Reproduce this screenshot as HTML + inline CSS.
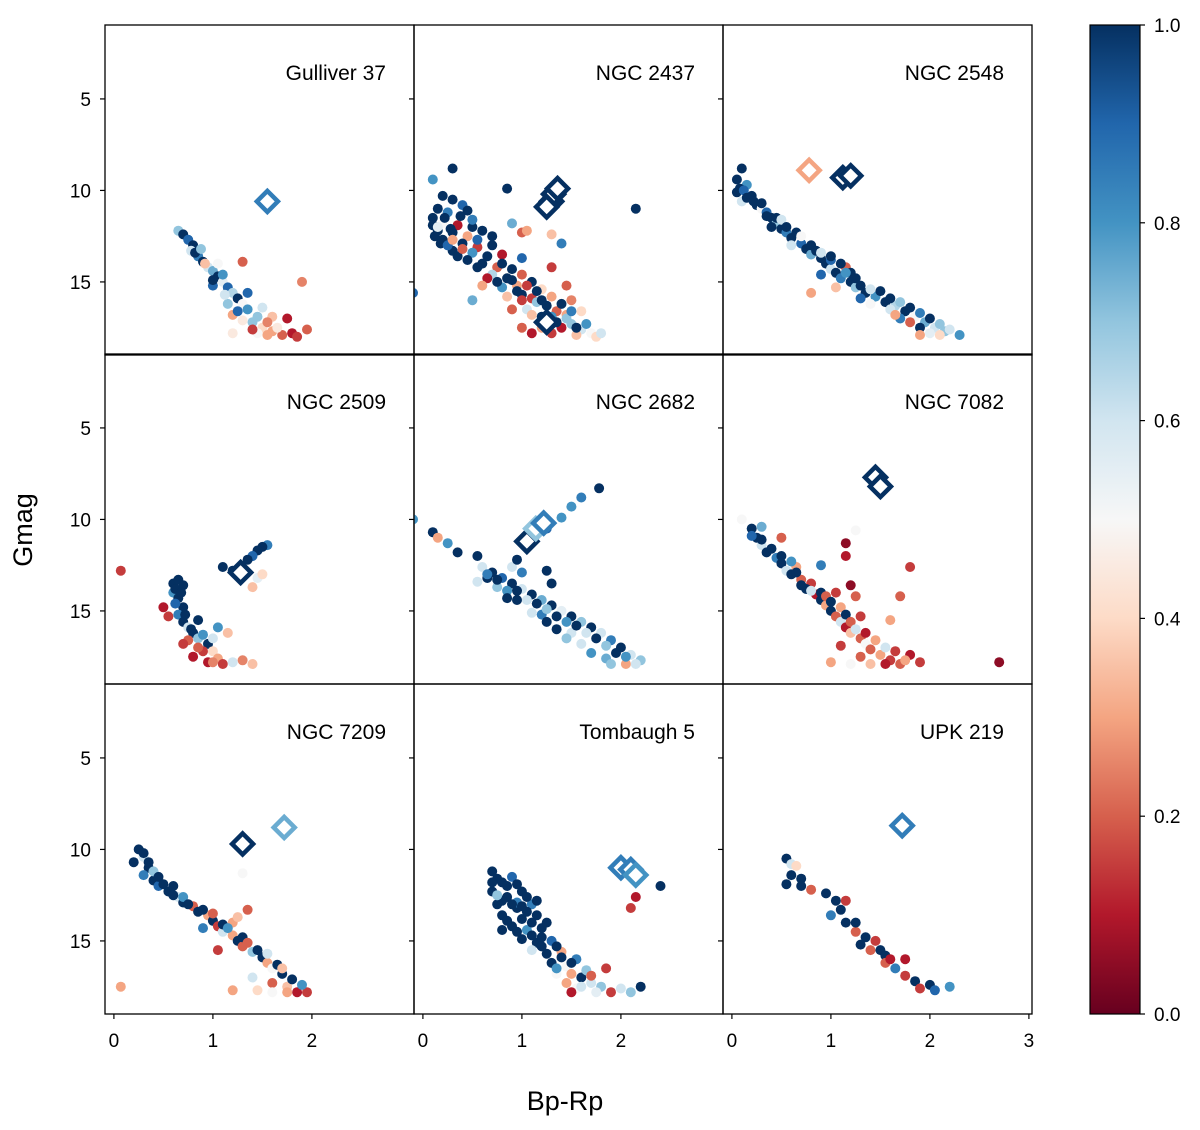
<!DOCTYPE html>
<html><head><meta charset="utf-8">
<style>
html,body{margin:0;padding:0;background:#fff;}
svg{display:block;font-family:"Liberation Sans","DejaVu Sans",sans-serif;}
</style></head>
<body>
<svg id="chart" width="1200" height="1130" viewBox="0 0 1200 1130"></svg>
<script>
// ---- data ----
const clusterNames = ["Gulliver 37","NGC 2437","NGC 2548","NGC 2509","NGC 2682","NGC 7082","NGC 7209","Tombaugh 5","UPK 219"];
const yTicks = [5,10,15];
const xTicks = [0,1,2,3];
const cbTicks = [0.0,0.2,0.4,0.6,0.8,1.0];

const pts0 = [[0.65,12.2,0.7],[0.7,12.4,1],[0.75,12.7,0.9],[0.8,13.0,1],[0.78,13.3,0.6],[0.85,13.6,0.85],[0.9,13.9,1],[0.95,14.2,0.6],[1.0,14.4,0.75],[0.92,14.0,0.35],[1.05,14.7,1],[1.1,15.0,0.55],[1.15,15.3,0.9],[1.2,15.6,0.65],[1.25,15.9,1],[1.3,16.2,0.5],[1.35,16.5,0.8],[1.2,16.8,0.3],[1.3,17.1,0.45],[1.4,17.2,0.7],[1.5,17.5,0.4],[1.6,17.7,0.3],[1.7,17.9,0.2],[1.8,17.8,0.1],[1.95,17.6,0.2],[1.75,17.0,0.1],[1.6,16.9,0.35],[1.9,15.0,0.25],[1.45,17.8,0.5],[1.2,17.8,0.45],[1.05,14.0,0.5],[1.1,14.6,0.8],[1.0,15.2,0.9],[1.3,13.9,0.2],[1.15,16.2,0.7],[1.35,15.6,0.9],[1.5,16.4,0.6],[1.4,17.6,0.15],[1.55,17.2,0.25],[0.82,13.4,1],[0.88,13.2,0.7],[1.0,14.9,1],[1.12,15.7,0.6],[1.25,16.6,0.9],[1.45,16.9,0.7],[1.55,17.9,0.3],[1.65,17.5,0.45],[1.85,18.0,0.15]];
const dia0 = [[1.55,10.6,0.85]];

const pts1 = [[0.3,8.8,1],[0.1,9.4,0.8],[0.85,9.9,1],[0.2,10.3,1],[0.3,10.5,1],[0.4,10.8,0.9],[0.15,11.0,1],[0.25,11.2,0.85],[0.45,11.1,1],[0.1,11.5,1],[0.2,11.8,0.5],[0.35,11.9,0.1],[0.15,12.2,1],[0.3,12.3,1],[0.45,12.5,0.3],[0.2,12.7,1],[0.4,12.9,1],[0.55,13.1,0.15],[0.3,13.3,1],[0.5,13.4,0.8],[0.65,13.6,1],[0.8,13.5,0.1],[0.6,14.0,1],[0.75,14.2,0.2],[0.9,14.3,1],[0.7,14.6,0.65],[0.85,14.8,1],[1.0,14.6,0.2],[1.1,15.0,1],[0.95,15.2,0.3],[1.2,15.4,0.4],[1.0,15.7,1],[1.1,15.9,0.15],[1.3,15.8,0.3],[1.25,16.3,1],[1.05,16.5,0.6],[1.35,16.6,0.2],[1.2,16.9,1],[1.45,16.8,0.3],[1.5,17.3,0.7],[1.4,17.5,0.1],[1.6,17.6,0.6],[1.7,17.8,0.5],[1.55,17.9,0.35],[1.3,17.8,0.15],[1.1,17.8,0.1],[1.0,17.5,0.2],[1.75,18.0,0.4],[1.8,17.8,0.6],[0.9,16.5,0.2],[1.0,12.3,0.2],[1.05,12.2,0.3],[1.3,12.4,0.35],[1.4,12.9,0.85],[1.0,13.7,0.9],[0.5,16.0,0.75],[-0.1,15.6,0.9],[2.15,11.0,1],[0.9,11.8,0.75],[1.5,16.0,0.25],[1.6,16.6,0.4],[0.8,15.3,0.8],[1.3,14.2,0.15],[1.45,15.2,0.2],[1.15,16.1,0.7],[0.7,12.5,1],[0.5,12.0,1],[0.55,12.7,0.9],
[0.1,11.9,1],[0.12,12.5,1],[0.18,12.9,1],[0.25,13.0,0.9],[0.35,13.6,1],[0.45,13.8,1],[0.55,14.2,1],[0.4,13.2,0.2],[0.28,12.1,1],[0.22,11.5,1],[0.38,11.4,1],[0.5,11.6,0.85],[0.6,12.2,1],[0.7,13.0,1],[0.8,14.0,1],[0.9,14.9,1],[0.95,15.5,1],[1.05,15.2,0.15],[1.15,15.5,1],[1.2,16.0,1],[1.3,16.9,0.8],[1.35,17.2,1],[1.45,17.0,0.7],[1.55,17.5,1],[1.65,17.3,0.8],[1.2,17.5,0.3],[1.0,16.0,0.15],[0.85,15.8,0.35],[0.75,15.0,1],[0.65,14.8,0.1],[0.6,15.2,0.3],[1.1,16.8,0.35],[1.4,16.2,1],[1.5,16.6,0.85],[0.15,12.0,0.55],[0.3,12.7,0.3]];
const dia1 = [[1.3,10.6,1],[1.32,10.2,1],[1.36,9.9,1],[1.25,10.9,1],[1.25,17.2,1]];

const pts2 = [[0.1,8.8,1],[0.05,9.4,1],[0.15,9.7,0.8],[0.05,10.1,1],[0.2,10.3,1],[0.1,10.6,0.6],[0.25,10.8,1],[0.3,11.0,0.5],[0.35,11.2,0.9],[0.4,11.5,1],[0.45,11.8,0.7],[0.5,12.1,1],[0.55,12.3,0.85],[0.6,12.6,1],[0.7,12.9,0.9],[0.75,13.2,1],[0.8,13.5,0.75],[0.9,13.7,1],[0.95,14.0,1],[1.0,14.3,0.6],[1.05,14.5,1],[1.1,14.8,0.85],[1.2,15.0,1],[1.25,15.3,0.7],[1.35,15.6,1],[1.45,15.8,0.8],[1.55,16.1,1],[1.65,16.3,0.65],[1.75,16.6,1],[1.85,16.9,0.5],[1.95,17.2,0.75],[2.05,17.5,0.6],[2.15,17.7,0.7],[2.0,17.8,0.55],[2.3,17.9,0.8],[1.9,17.5,1],[1.6,16.5,0.6],[1.3,15.9,0.9],[1.15,14.2,0.2],[1.05,15.3,0.35],[0.8,15.6,0.3],[0.9,14.6,0.9],[0.6,13.0,0.6],[1.7,17.0,0.85],[1.4,16.2,0.5],[1.2,14.5,1],[1.0,13.8,0.9],[0.4,12.0,1],
[0.08,9.9,1],[0.12,10.0,0.9],[0.15,10.4,1],[0.22,10.6,1],[0.3,10.7,1],[0.35,11.4,1],[0.45,11.5,1],[0.5,11.6,0.6],[0.55,12.0,1],[0.65,12.3,1],[0.7,12.5,0.5],[0.8,13.0,1],[0.85,13.3,1],[0.9,13.4,0.6],[1.0,13.6,1],[1.1,14.0,1],[1.15,14.5,0.8],[1.25,14.8,1],[1.3,15.2,1],[1.4,15.4,0.6],[1.5,15.5,1],[1.6,15.9,1],[1.7,16.1,0.7],[1.8,16.4,1],[1.9,16.7,0.85],[2.0,17.0,1],[2.1,17.3,0.7],[2.2,17.6,0.6],[1.8,17.2,0.2],[1.65,16.8,0.3],[1.9,17.9,0.3],[2.1,17.9,0.4]];
const dia2 = [[0.78,8.9,0.3],[1.12,9.3,1],[1.2,9.2,1]];

const pts3 = [[0.07,12.8,0.15],[1.55,11.4,0.85],[1.5,11.5,1],[1.45,11.7,1],[1.4,12.0,0.9],[1.35,12.2,1],[1.1,12.6,1],[1.2,12.8,1],[1.45,13.2,0.55],[1.4,13.7,0.35],[1.5,13.0,0.4],[0.6,13.5,1],[0.65,13.3,1],[0.7,13.6,1],[0.6,14.0,0.8],[0.65,14.3,1],[0.5,14.8,0.1],[0.55,15.3,0.15],[0.7,14.8,1],[0.65,15.2,0.85],[0.7,15.6,1],[0.75,15.9,0.6],[0.8,16.2,1],[0.85,16.5,0.7],[0.95,16.8,1],[0.9,17.2,0.15],[0.8,17.5,0.1],[1.0,17.2,0.4],[1.05,17.6,0.3],[1.1,17.9,0.15],[1.2,17.8,0.6],[1.3,17.7,0.25],[1.4,17.9,0.35],[1.15,16.2,0.35],[1.0,16.5,0.6],[0.75,16.6,0.2],[0.95,17.8,0.1],[1.05,15.9,0.8],[0.85,15.5,1],[0.62,14.6,0.9],[0.62,13.8,1],[0.68,14.0,1],[0.72,15.2,1],[0.78,16.0,1],[0.9,16.3,0.8],[0.85,17.0,0.2],[1.0,17.8,0.25],[0.7,16.8,0.15]];
const dia3 = [[1.28,12.9,1]];

const pts4 = [[-0.1,10.0,0.8],[0.1,10.7,1],[0.15,11.0,0.3],[0.25,11.3,0.8],[0.35,11.8,1],[0.55,12.0,1],[0.6,12.6,0.6],[0.7,12.9,1],[0.8,13.2,0.9],[0.9,13.5,1],[1.0,13.8,0.6],[1.1,14.1,1],[1.2,14.4,0.75],[1.3,14.7,1],[1.4,15.0,0.55],[1.5,15.3,1],[1.6,15.6,0.7],[1.7,15.9,1],[1.8,16.2,0.6],[1.9,16.6,0.85],[2.0,17.0,1],[2.1,17.4,0.6],[2.2,17.7,0.7],[2.05,17.9,0.3],[1.85,17.6,0.75],[1.5,16.2,0.6],[1.2,15.2,0.85],[0.95,14.4,1],[0.75,13.7,0.7],[0.65,13.2,1],[0.9,12.6,0.6],[0.95,12.2,1],[1.05,11.5,0.85],[1.1,11.0,1],[1.25,10.5,0.9],[1.4,9.9,0.8],[1.5,9.3,0.8],[1.6,8.8,0.85],[1.78,8.3,1],[1.25,12.8,1],[1.3,13.5,1],[1.6,16.8,0.6],[1.35,16.0,1],
[0.65,13.0,0.85],[0.75,13.3,1],[0.85,13.9,0.8],[0.95,13.9,1],[1.05,14.4,0.6],[1.15,14.6,1],[1.25,14.9,0.7],[1.35,15.3,1],[1.45,15.6,0.8],[1.55,15.8,1],[1.65,16.2,0.6],[1.75,16.5,1],[1.85,16.9,0.7],[1.95,17.3,1],[2.05,17.5,0.8],[2.15,17.9,0.6],[1.9,17.9,0.7],[1.7,17.3,0.8],[1.45,16.5,0.7],[1.25,15.6,1],[1.1,15.1,0.6],[0.85,14.3,1],[0.55,13.4,0.6],[1.0,12.9,0.85]];
const dia4 = [[1.05,11.2,1],[1.14,10.5,0.7],[1.22,10.2,0.85]];

const pts5 = [[0.1,10.0,0.5],[0.2,10.5,1],[0.3,10.4,0.75],[0.25,11.0,1],[0.3,11.4,0.6],[0.35,11.8,1],[0.45,12.1,0.85],[0.5,12.4,1],[0.55,12.8,0.6],[0.6,13.0,1],[0.7,13.3,0.2],[0.8,13.5,0.15],[0.75,13.8,1],[0.85,14.1,0.1],[0.9,14.4,1],[0.95,14.7,0.3],[1.0,15.0,1],[1.05,15.3,0.2],[1.1,15.6,0.6],[1.15,15.9,0.1],[1.2,16.2,0.35],[1.3,16.5,0.2],[1.35,16.8,0.5],[1.4,17.1,0.2],[1.5,17.4,0.3],[1.6,17.7,0.15],[1.7,17.9,0.2],[1.4,17.9,0.35],[1.0,17.8,0.3],[1.8,17.4,0.1],[1.9,17.8,0.15],[2.7,17.8,0.05],[1.15,11.3,0.05],[1.15,12.0,0.1],[1.2,13.6,0.05],[1.25,14.2,0.2],[1.3,15.3,0.15],[1.8,12.6,0.15],[1.7,14.2,0.2],[1.6,15.5,0.3],[1.25,10.6,0.5],[0.5,11.0,0.2],[0.9,12.5,0.85],[0.65,12.6,0.3],
[0.3,11.1,1],[0.4,11.6,1],[0.5,12.0,1],[0.6,12.3,0.8],[0.65,12.9,1],[0.7,13.6,1],[0.8,13.9,0.6],[0.9,14.0,1],[0.95,14.2,0.2],[1.0,14.5,1],[1.1,14.8,0.3],[1.15,15.2,1],[1.2,15.6,0.2],[1.25,16.0,0.6],[1.35,16.2,0.1],[1.45,16.6,0.3],[1.55,17.0,0.6],[1.65,17.2,0.15],[1.75,17.7,0.3],[1.3,17.5,0.2],[1.2,17.9,0.5],[1.55,17.9,0.1],[1.1,16.9,0.15],[1.05,14.0,0.15],[0.2,10.9,0.9]];
const dia5 = [[1.45,7.7,1],[1.5,8.2,1]];

const pts6 = [[0.25,10.0,1],[0.3,10.4,0.6],[0.2,10.7,1],[0.35,11.0,1],[0.3,11.4,0.85],[0.4,11.7,1],[0.45,12.0,0.9],[0.55,12.3,1],[0.65,12.6,0.6],[0.7,12.9,1],[0.8,13.1,0.2],[0.85,13.4,1],[0.95,13.6,0.3],[1.0,13.9,1],[1.05,14.2,0.15],[1.1,14.5,0.6],[1.2,14.7,0.3],[1.25,15.0,1],[1.3,15.3,0.2],[1.4,15.6,0.7],[1.5,15.9,1],[1.55,16.2,0.3],[1.6,16.5,0.5],[1.7,16.8,1],[1.6,17.3,0.2],[1.75,17.5,0.35],[1.85,17.8,0.1],[1.95,17.8,0.15],[1.2,17.7,0.3],[1.4,17.0,0.6],[1.45,17.7,0.4],[1.2,14.0,0.3],[1.25,13.7,0.35],[0.07,17.5,0.3],[1.3,11.3,0.5],[1.35,13.3,0.2],[1.05,15.5,0.15],[0.9,14.3,0.85],[0.6,12.0,1],
[0.3,10.2,1],[0.35,10.7,1],[0.4,11.2,0.7],[0.45,11.5,1],[0.5,11.9,1],[0.6,12.5,1],[0.7,12.6,0.8],[0.75,13.0,1],[0.9,13.3,1],[1.0,13.5,0.2],[1.1,14.1,1],[1.15,14.3,0.8],[1.3,14.8,1],[1.35,15.1,0.2],[1.45,15.5,1],[1.55,15.7,0.6],[1.65,16.3,1],[1.7,16.5,0.35],[1.8,17.1,1],[1.75,17.8,0.3],[1.6,17.8,0.5],[1.9,17.4,0.8]];
const dia6 = [[1.3,9.7,1],[1.72,8.8,0.75]];

const pts7 = [[0.7,11.2,1],[0.8,11.8,1],[0.9,11.5,0.9],[0.7,12.3,1],[0.85,12.6,1],[1.0,12.3,1],[0.75,13.0,1],[0.95,13.2,1],[1.1,13.0,0.85],[0.8,13.6,1],[1.0,13.8,1],[1.15,13.6,1],[0.9,14.2,1],[1.05,14.4,0.8],[1.2,14.3,1],[1.0,14.9,1],[1.15,15.1,1],[1.3,15.0,0.9],[1.1,15.5,0.6],[1.25,15.7,1],[1.4,15.6,0.3],[1.3,16.2,1],[1.45,16.4,0.5],[1.55,16.0,0.85],[1.5,16.8,0.3],[1.6,17.0,1],[1.7,17.3,0.6],[1.55,17.6,0.5],[1.8,17.5,0.7],[1.9,17.8,0.15],[2.0,17.6,0.6],[2.1,17.8,0.7],[1.5,17.8,0.1],[1.85,16.5,0.15],[2.2,17.5,1],[2.4,12.0,1],[2.15,12.6,0.1],[2.1,13.2,0.15],[0.95,12.9,0.85],[1.2,14.8,1],[1.35,16.8,0.5],
[0.75,11.6,1],[0.85,12.0,1],[0.95,11.9,1],[1.05,12.6,1],[0.8,12.8,1],[0.9,13.0,1],[1.05,13.4,1],[0.85,13.9,1],[0.95,14.5,1],[1.1,14.0,1],[1.25,14.0,1],[1.1,14.7,1],[1.2,15.3,1],[1.35,15.3,1],[1.4,15.9,1],[1.35,16.5,0.8],[1.5,16.2,1],[1.65,16.6,0.7],[1.6,17.5,0.6],[1.75,17.8,0.55],[1.7,16.9,0.2],[1.45,17.3,0.3],[0.7,11.8,1],[0.75,12.5,0.7],[1.0,13.1,1],[0.8,14.4,1],[1.15,12.8,1]];
const dia7 = [[2.0,11.0,0.85],[2.1,11.1,0.85],[2.15,11.4,0.8]];

const pts8 = [[0.55,10.5,1],[0.6,10.8,0.6],[0.65,10.9,0.4],[0.6,11.4,1],[0.7,11.6,1],[0.55,11.9,1],[0.7,12.0,1],[0.8,12.2,0.2],[0.95,12.4,1],[1.05,12.8,1],[1.15,12.8,0.15],[1.1,13.3,1],[1.0,13.6,0.85],[1.15,14.0,1],[1.25,14.5,0.2],[1.35,14.8,1],[1.3,15.2,1],[1.45,15.0,0.15],[1.5,15.5,1],[1.55,15.8,1],[1.55,16.2,0.2],[1.65,16.5,0.85],[1.75,16.9,0.15],[1.85,17.2,1],[1.9,17.6,0.15],[2.0,17.4,1],[2.05,17.7,0.9],[2.2,17.5,0.8],[1.6,16.0,0.1],[1.25,14.0,1],[1.4,15.5,0.2],[1.75,16.0,0.1]];
const dia8 = [[1.72,8.7,0.85]];

const panelPoints = [pts0,pts1,pts2,pts3,pts4,pts5,pts6,pts7,pts8];
const panelDiamonds = [dia0,dia1,dia2,dia3,dia4,dia5,dia6,dia7,dia8];

// ---- geometry ----
const colLeft = [105,414,723], colW = 309;
const rowTop = [25,354,684], rowH = 330;
const X0 = -0.09, PXU = 99;
const Y0 = 0.96, PYU = 18.3;
const sx = (c, v) => colLeft[c] + (v - X0) * PXU;
const sy = (r, v) => rowTop[r] + (v - Y0) * PYU;

const stops = ["#67001f","#b2182b","#d6604d","#f4a582","#fddbc7","#f7f7f7","#d1e5f0","#92c5de","#4393c3","#2166ac","#053061"];
function hex2rgb(h){return [1,3,5].map(i=>parseInt(h.substr(i,2),16));}
function cmap(t){
  t=Math.max(0,Math.min(1,t));
  const p=t*(stops.length-1), i=Math.min(stops.length-2,Math.floor(p)), f=p-i;
  const a=hex2rgb(stops[i]), b=hex2rgb(stops[i+1]);
  return "rgb("+a.map((v,k)=>Math.round(v+(b[k]-v)*f)).join(",")+")";
}

const NS="http://www.w3.org/2000/svg";
const svg=document.getElementById("chart");
function mk(tag, attrs, parent){
  const e=document.createElementNS(NS,tag);
  for(const k in attrs) e.setAttribute(k,attrs[k]);
  (parent||svg).appendChild(e);
  return e;
}

for(let p=0;p<9;p++){
  const r=Math.floor(p/3), c=p%3;
  const g=mk("g",{});
  
  
  const clipId="clip"+p;
  const cp=mk("clipPath",{id:clipId},g);
  mk("rect",{x:colLeft[c],y:rowTop[r],width:colW,height:rowH},cp);
  const pg=mk("g",{"clip-path":"url(#"+clipId+")"},g);
  for(const d of panelPoints[p]){
    const e=mk("circle",{cx:sx(c,d[0]).toFixed(1),cy:sy(r,d[1]).toFixed(1),r:5,fill:cmap(d[2])},pg);
    
    
  }
  for(const d of panelDiamonds[p]){
    const x=sx(c,d[0]), y=sy(r,d[1]), h=10.5;
    const e=mk("polygon",{points:`${x},${y-h} ${x+h},${y} ${x},${y+h} ${x-h},${y}`,fill:"#fff",stroke:cmap(d[2]),"stroke-width":4.5},pg);
    
    
  }
  const fr=mk("rect",{x:colLeft[c],y:rowTop[r],width:colW,height:rowH,fill:"none",stroke:"#000","stroke-width":1.3},g);
  
  
  const t=mk("text",{x:colLeft[c]+colW-28,y:rowTop[r]+55,"text-anchor":"end","font-size":21,fill:"#000"},g);
  t.textContent=clusterNames[p];
  
  
  for(const v of yTicks){
    const y=sy(r,v);
    mk("line",{x1:colLeft[c]-5,x2:colLeft[c],y1:y,y2:y,stroke:"#000","stroke-width":1.2},g);
    if(c===0){
      const tl=mk("text",{x:colLeft[c]-14,y:y+7,"text-anchor":"end","font-size":19},g);
      tl.textContent=v;
      
      
    }
  }
  if(r===2){
    for(const v of xTicks){
      if(v===3 && c<2) continue;
      const x=sx(c,v);
      mk("line",{x1:x,x2:x,y1:rowTop[r]+rowH,y2:rowTop[r]+rowH+5,stroke:"#000","stroke-width":1.2},g);
      const tl=mk("text",{x:x,y:rowTop[r]+rowH+33,"text-anchor":"middle","font-size":19},g);
      tl.textContent=v;
      
      
    }
  }
}

const xt=mk("text",{x:565,y:1110,"text-anchor":"middle","font-size":27});
xt.textContent="Bp-Rp";


const yt=mk("text",{x:0,y:0,"text-anchor":"middle","font-size":27,transform:"translate(32,530) rotate(-90)"});
yt.textContent="Gmag";



const cbX=1090, cbW=50, cbTop=25, cbBot=1014;
const defs=mk("defs",{});
const lg=mk("linearGradient",{id:"cbgrad",x1:0,y1:1,x2:0,y2:0},defs);
stops.forEach((s,i)=>mk("stop",{offset:(i/(stops.length-1)),"stop-color":s},lg));
const cb=mk("rect",{x:cbX,y:cbTop,width:cbW,height:cbBot-cbTop,fill:"url(#cbgrad)",stroke:"#000","stroke-width":1.2});


for(const v of cbTicks){
  const y=cbBot-(cbBot-cbTop)*v;
  mk("line",{x1:cbX+cbW,x2:cbX+cbW+5,y1:y,y2:y,stroke:"#000","stroke-width":1.2});
  const tl=mk("text",{x:cbX+cbW+14,y:y+7,"font-size":19});
  tl.textContent=v.toFixed(1);
  
  
}
</script>
</body></html>
